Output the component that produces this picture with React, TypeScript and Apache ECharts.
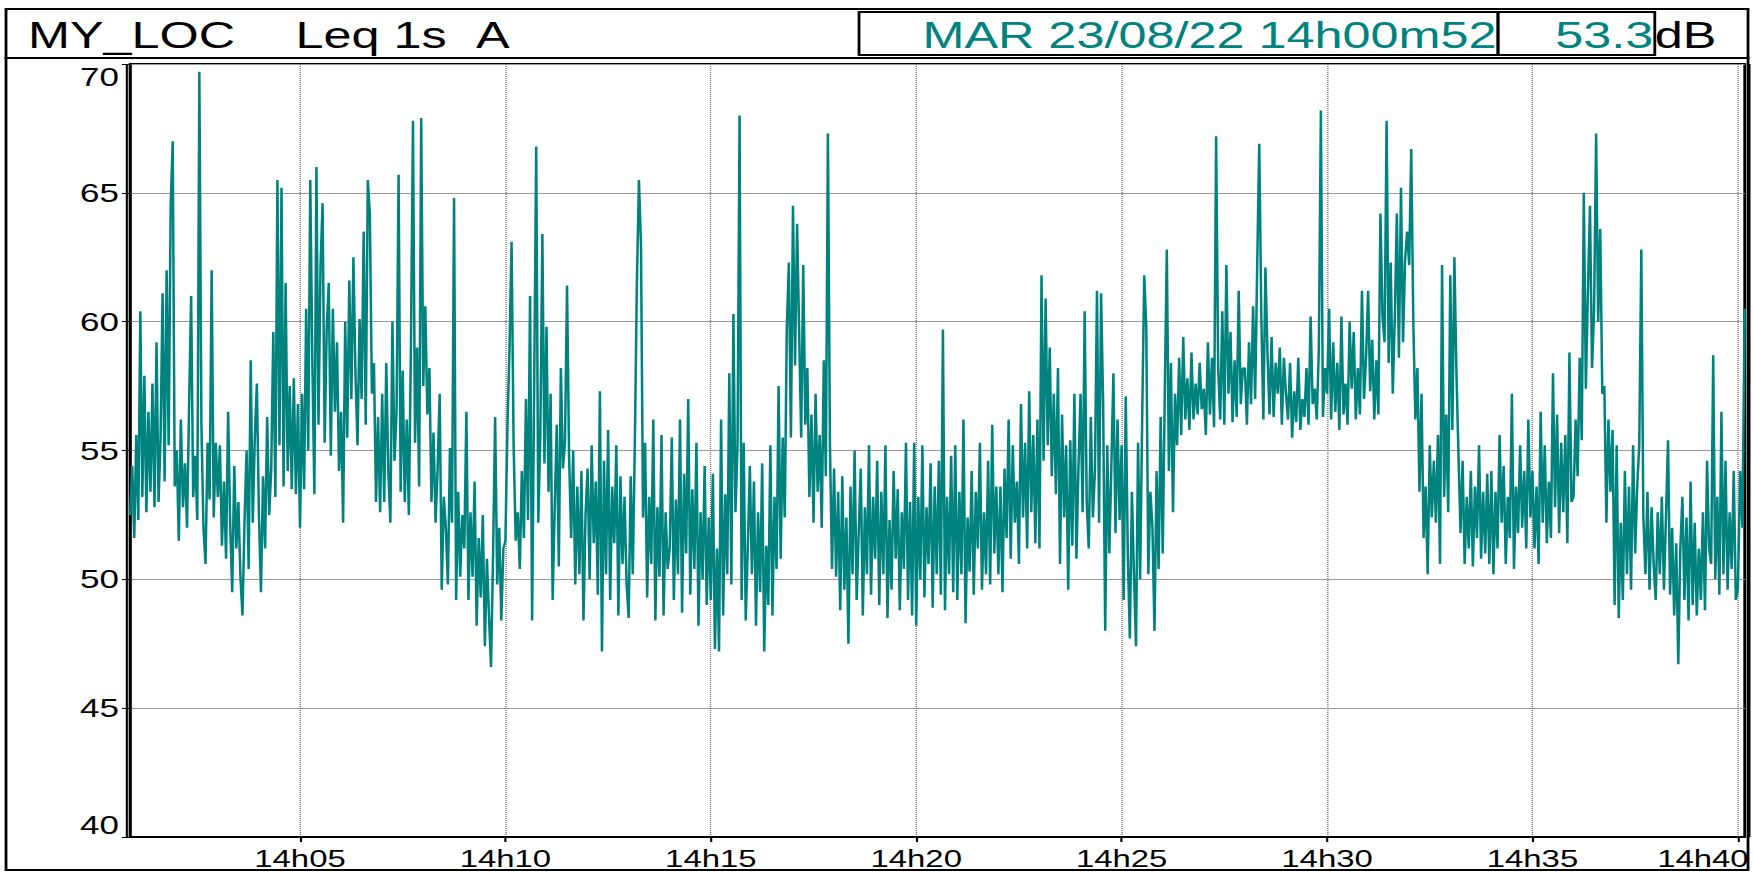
import React, { useEffect, useRef } from 'react';
import * as echarts from 'echarts';

// ---- data: Leq 1s (dB(A)), one array per minute block ----
const m00 = [52.5, 54.4, 51.6, 55.6, 52.3, 60.4, 53.2, 57.9, 52.6, 56.5, 53.4, 57.6, 52.8, 59.2, 53, 55.5, 61.1, 53.8, 62, 55.2, 64.5, 67, 53.6];
const m02 = [55, 51.5, 56.2, 52.8, 54.5, 52, 56.7, 61, 53.2, 54.8, 52.3, 69.7, 56, 52, 50.6, 55.3, 53.1, 62, 52.4, 55.3];
const m03 = [53.2, 55.2, 51.3, 53.8, 50.8, 56.5, 52.2, 49.5, 54.4, 51.2, 53, 50.1, 48.6, 52.3, 55, 50.4, 58.5, 52.2, 55.5, 57.6];
const m04 = [52.5, 49.5, 54, 51.2, 56.3, 52.5, 54.3, 59.6, 53.2, 65.5, 55.2, 65.2, 53.6, 61.5, 54.2, 57.5, 53.5, 57.8, 53.3, 56.8];
const m05 = [52, 57.2, 53.5, 60.5, 55, 65.5, 58.5, 53.3, 66, 56, 62.2, 64.6, 55.3, 59.7, 61.5, 54.8, 60.5, 56.5, 59.2, 54.2];
const m06 = [56.5, 52.2, 60, 55.5, 61.6, 57, 62.5, 58, 55.2, 60.1, 57, 63.5, 56, 65.5, 64.2, 57.2, 58.4, 53, 56.3, 52.6];
const m07 = [57.2, 53, 58.4, 54.2, 52.2, 60, 54.6, 56.5, 65.7, 53.4, 58.1, 53, 56.2, 52.5, 59, 67.8, 55.3, 59, 53.6, 67.9];
const m08 = [57.5, 60.6, 56.4, 58.2, 53, 55.7, 52.2, 54.3, 57.2, 49.6, 53.2, 52, 49.8, 55.1, 52.2, 64.8, 49.2, 53.4, 50.1, 52.5];
const m09 = [51.2, 56.5, 49.2, 52.6, 50.1, 53.8, 48.2, 51.6, 49.3, 52.5, 47.4, 50.8, 48.6, 46.6, 51, 56.3, 49.8, 52, 48.4, 51.2];
const m10 = [51.5, 56, 59, 63.1, 55.2, 51.5, 52.6, 50.4, 54.2, 51.6, 57, 52.3, 61, 48.4, 57.5, 66.8, 52.2, 55.6, 63.4, 54.5];
const m11 = [59.8, 53.4, 57.2, 49.2, 52.8, 56, 50.5, 58.2, 54.3, 55.3, 61.4, 54.8, 51.6, 55, 49.8, 53.6, 50.2, 54.2, 48.4, 52.5];
const m12 = [54.3, 50, 55.2, 51.4, 53.8, 49.4, 57.3, 47.2, 54.6, 50.2, 55.8, 49.2, 53.6, 51.4, 55.2, 48.6, 54, 50.6, 53.2, 49.8];
const m13 = [48.5, 54, 50.2, 55.2, 61.5, 65.5, 63, 52.4, 55.3, 49.3, 53.2, 50.6, 56.2, 48.4, 52.8, 50.1, 55.6, 48.6, 52.6, 50.4];
const m14 = [51.2, 55.5, 49.2, 53.1, 50.2, 56.2, 48.7, 54.1, 51, 57, 49.4, 53.5, 50.4, 55.3, 48.2, 52.6, 50, 54.4, 49, 52.4];
const m15 = [49.2, 54.1, 47.3, 51.2, 47.2, 56.2, 48.6, 53.3, 50.2, 58, 49.8, 60.3, 52.6, 55.2, 68, 49.2, 55.3, 48.4, 51.2, 54.4];
const m16 = [50.2, 53.8, 48.2, 52.6, 49.5, 54.5, 47.2, 51.3, 49, 55.2, 48.6, 53.2, 50.4, 57.5, 50.8, 55.5, 52.4, 59.8, 62.3, 55.5];
const m17 = [64.5, 58.3, 63.8, 59.6, 55.5, 62.2, 56, 58.2, 53.2, 56.4, 52.2, 57.2, 53.4, 55.6, 52, 58.5, 54, 67.3, 55.2, 50.4];
const m18 = [54.3, 50.1, 53.4, 48.8, 54, 49.6, 52.4, 47.5, 53.6, 50.2, 55, 49.2, 51.8, 54.3, 48.6, 52.8, 50.2, 55.2, 49.4, 53.2];
const m19 = [50.8, 54.6, 49, 53.4, 50.2, 55.2, 48.5, 52.3, 49.6, 54.2, 50.8, 53.5, 48.8, 52.6, 50.4, 55.3, 49.2, 53, 48.6, 55.3];
const m20 = [48.2, 53.2, 50, 55.2, 49.3, 52.8, 50.6, 54.5, 48.9, 53.6, 50.2, 54.6, 49.4, 59.7, 48.8, 53.2, 50.2, 54.8, 49.5, 55.2];
const m21 = [49.2, 53.4, 50.2, 56.2, 48.3, 52.4, 50.3, 54.2, 49.4, 53.4, 51.2, 55.3, 49.6, 52.6, 50.2, 54.6, 49.8, 56, 51, 53.6];
const m22 = [50.2, 53.6, 49.5, 54.3, 51.6, 56.2, 50.8, 55.2, 52.2, 53.8, 50.6, 56.8, 52.4, 55.3, 51.2, 57.3, 52.6, 55.6, 51.4, 56.2];
const m23 = [51.2, 61.8, 54.6, 60.9, 55.2, 59, 54, 57.2, 53.3, 58.2, 50.6, 56.4, 52.4, 55.2, 49.6, 55.4, 51.3, 57.2, 50.8, 54.4];
const m24 = [57.2, 52.6, 60.4, 53, 51.2, 56.3, 52.4, 54.2, 61.2, 52.2, 61.1, 56.8, 48, 55.2, 51, 54.4, 58, 51.8, 56.2, 52.3];
const m25 = [55.2, 49.2, 57.1, 51, 47.7, 53.4, 50.2, 47.4, 55.3, 50, 56.2, 61.8, 59.8, 50.2, 53.4, 52, 48, 54.2, 50.4, 56.3];
const m26 = [51, 57.2, 62.8, 54.2, 58.4, 52.6, 57.2, 55.2, 58.6, 55.6, 59.4, 56.2, 57.8, 55.8, 58.8, 56.2, 57.6, 56.4, 58.4, 56.6];
const m27 = [57.4, 55.6, 59.2, 56.4, 58.6, 55.9, 67.2, 58.2, 56.2, 60.4, 56, 62.2, 57.2, 59.6, 56.1, 58.5, 56.3, 61.2, 56.8, 58.2];
const m28 = [58.2, 56, 59.2, 56.8, 60.6, 57, 62.2, 66.9, 60.2, 56.2, 62.1, 58.8, 56.4, 59.4, 56.3, 58.4, 57.2, 59, 56, 58.6];
const m29 = [57.2, 56.2, 58.4, 55.5, 57.3, 56.1, 58.6, 55.8, 57, 56.3, 58.2, 56, 60.2, 56.8, 57.4, 56.2, 58.9, 68.2, 56.3, 58.2];
const m30 = [57.2, 60.5, 56.2, 59.2, 56.5, 58.4, 55.8, 60.2, 56.4, 57.6, 56, 60, 57.4, 59.6, 56.2, 58.2, 56.4, 61.2, 57, 58.6];
const m31 = [61.2, 57.3, 59.3, 56.2, 58.5, 56.4, 64.2, 60.2, 59.2, 67.8, 58.4, 62.3, 57.2, 60.2, 64.2, 58.6, 65.2, 59.2, 62.4, 63.5];
const m32 = [62.2, 66.7, 60, 56.2, 58.2, 53.4, 57.2, 51.6, 53.6, 50.2, 55.2, 52.4, 54.6, 52.2, 55.6, 50.6, 62.2, 53.2, 56.4, 52.6];
const m33 = [61.8, 55.8, 62.5, 58, 54.8, 51.8, 54.6, 50.6, 53.2, 51.2, 54.2, 50.5, 53.6, 51.6, 55.2, 50.8, 53.4, 51, 54.1, 50.6];
const m34 = [54.2, 50.2, 53.4, 51.2, 55.6, 52.2, 54.4, 50.6, 53.2, 51.6, 57.2, 50.4, 53.6, 51.8, 55.2, 52, 54.2, 51.2, 56.2, 52.4];
const m35 = [54.2, 51.2, 53.6, 50.6, 56.5, 52.2, 55.2, 51.4, 53.8, 51.6, 58, 52.8, 56.4, 51.8, 55.3, 52.6, 55.6, 51.4, 58.8, 53];
const m36 = [53.2, 56.2, 54, 58.6, 55.4, 65, 57.4, 61.2, 64.5, 58.2, 60.4, 67.3, 60, 63.6, 57.2, 57.5, 52.2, 56.2, 53.4, 55.8];
const m37 = [49, 55.2, 48.5, 52.2, 49.2, 54.2, 50.2, 53.6, 49.6, 55.2, 51, 53.6, 55.2, 62.8, 52.4, 50.2, 53.4, 49.6, 52.8, 50.6];
const m38 = [49.2, 52.6, 50.2, 53.2, 49.6, 52.4, 55.4, 49.4, 52, 48.6, 51.4, 46.7, 51.2, 53.2, 49.2, 52.4, 48.4, 53.8, 49, 52.2];
const m39 = [48.6, 51.2, 49.2, 52.6, 48.8, 54.6, 51.2, 50.6, 58.7, 50, 53.2, 49.4, 56.5, 50.2, 54.6, 49.6, 52.6, 50.4, 54.2, 49.2];
const m40 = [49.6, 54.2, 52, 60.5];

const minuteBlocks = [m00, m02, m03, m04, m05, m06, m07, m08, m09, m10, m11, m12, m13, m14, m15, m16, m17, m18, m19, m20,
  m21, m22, m23, m24, m25, m26, m27, m28, m29, m30, m31, m32, m33, m34, m35, m36, m37, m38, m39, m40];

// time axis in seconds after 14h00m00
const START_S = 52;
const END_S = 2410;
const tickSeconds = [300, 600, 900, 1200, 1500, 1800, 2100, 2400];

const titleLoc = 'MY_LOC';
const titleMeas = 'Leq 1s';
const titleWeight = 'A';
const dateText = 'MAR 23/08/22 14h00m52';
const cursorValue = '53.3';
const unitText = 'dB';

// ---- layout ----
const S = 1.4; // horizontal stretch of the whole picture
const W = 1252;
const H = 872;
const TEAL = '#00827f';
const FONT = '"Liberation Sans", Arial, Helvetica, sans-serif';

function buildSeries(): [number, number][] {
  const out: [number, number][] = [];
  minuteBlocks.forEach((vals, k) => {
    const t0 = k === 0 ? START_S : 60 + k * 60;
    const last = k === minuteBlocks.length - 1;
    const t1 = last ? END_S : 60 + (k + 1) * 60;
    const step = last ? (t1 - t0) / (vals.length - 1) : (t1 - t0) / vals.length;
    vals.forEach((v, i) => out.push([t0 + i * step, v]));
  });
  return out;
}

function fmtTime(v: number): string {
  const m = Math.round(v / 60);
  return '14h' + (m < 10 ? '0' + m : String(m));
}

export default function App() {
  const ref = useRef<HTMLDivElement>(null);
  useEffect(() => {
    if (!ref.current) return;
    const chart = echarts.init(ref.current, null, { renderer: 'svg' });
    const gl = 93, gr = 5.6, gt = 64, gb = 35;
    chart.setOption({
      animation: false,
      backgroundColor: '#ffffff',
      grid: {
        left: gl, right: gr, top: gt, bottom: gb,
        show: true, borderColor: '#000', borderWidth: 2, backgroundColor: 'transparent',
      },
      xAxis: {
        type: 'value',
        min: START_S,
        max: END_S,
        axisLine: { show: true, lineStyle: { color: '#000', width: 2 } },
        axisTick: { show: true, customValues: tickSeconds, length: 5, lineStyle: { color: '#000', width: 1.5 } },
        axisLabel: {
          customValues: tickSeconds,
          margin: 10,
          fontFamily: FONT,
          fontSize: 23.5,
          color: '#000',
          formatter: (v: number) => (v === 2400 ? '{r|' + fmtTime(v) + '}' : fmtTime(v)),
          rich: { r: { fontFamily: FONT, fontSize: 23.5, color: '#000', padding: [0, 50, 0, 0] } },
        },
        splitLine: { show: true, lineStyle: { color: '#777', width: 1, type: 'dotted' } },
      },
      yAxis: {
        type: 'value',
        min: 40,
        max: 70,
        interval: 5,
        axisLine: { show: true, lineStyle: { color: '#000', width: 2 } },
        axisTick: { show: true, length: 6, lineStyle: { color: '#000', width: 1 } },
        axisLabel: {
          margin: 8,
          fontFamily: FONT,
          fontSize: 25,
          color: '#000',
          verticalAlignMaxLabel: 'top',
          verticalAlignMinLabel: 'bottom',
        },
        splitLine: { show: true, lineStyle: { color: '#9a9a9a', width: 1.2 } },
      },
      series: [
        {
          type: 'line',
          data: buildSeries(),
          showSymbol: false,
          symbol: 'none',
          lineStyle: { color: TEAL, width: 1.8 },
          itemStyle: { color: TEAL },
          z: 3,
        },
      ],
      graphic: [
        { type: 'rect', shape: { x: 4.3, y: 9, width: 1244.3, height: 49 }, style: { fill: 'none', stroke: '#000', lineWidth: 2 } },
        { type: 'rect', shape: { x: 613.6, y: 12, width: 456.4, height: 43 }, style: { fill: 'none', stroke: '#000', lineWidth: 2 } },
        { type: 'rect', shape: { x: 1070, y: 12, width: 112, height: 43 }, style: { fill: 'none', stroke: '#000', lineWidth: 2 } },
        { type: 'rect', shape: { x: 4.3, y: 58, width: 1244.3, height: 812 }, style: { fill: 'none', stroke: '#000', lineWidth: 2 } },
        { type: 'line', shape: { x1: 90.6, y1: gt, x2: 90.6, y2: H - gb }, style: { stroke: '#000', lineWidth: 1.5 } },
        { type: 'line', shape: { x1: 1249.6, y1: gt, x2: 1249.6, y2: H - gb }, style: { stroke: '#000', lineWidth: 1.5 } },
        { type: 'text', x: 20, y: 35, style: { text: titleLoc, font: '36px ' + FONT, fill: '#000', verticalAlign: 'middle' } },
        { type: 'text', x: 211, y: 35, style: { text: titleMeas, font: '36px ' + FONT, fill: '#000', verticalAlign: 'middle' } },
        { type: 'text', x: 340, y: 35, style: { text: titleWeight, font: '36px ' + FONT, fill: '#000', verticalAlign: 'middle' } },
        { type: 'text', x: 1069, y: 35, style: { text: dateText, font: '36px ' + FONT, fill: TEAL, align: 'right', verticalAlign: 'middle' } },
        { type: 'text', x: 1181, y: 35, style: { text: cursorValue, font: '36px ' + FONT, fill: TEAL, align: 'right', verticalAlign: 'middle' } },
        { type: 'text', x: 1182, y: 35, style: { text: unitText, font: '36px ' + FONT, fill: '#000', align: 'left', verticalAlign: 'middle' } },
      ],
    });
    return () => chart.dispose();
  }, []);
  return (
    <div
      style={{
        position: 'fixed', left: 0, top: 0, width: W, height: H,
        transform: `scaleX(${S})`, transformOrigin: '0 0', background: '#fff',
      }}
    >
      <div ref={ref} style={{ width: W, height: H }} />
    </div>
  );
}
